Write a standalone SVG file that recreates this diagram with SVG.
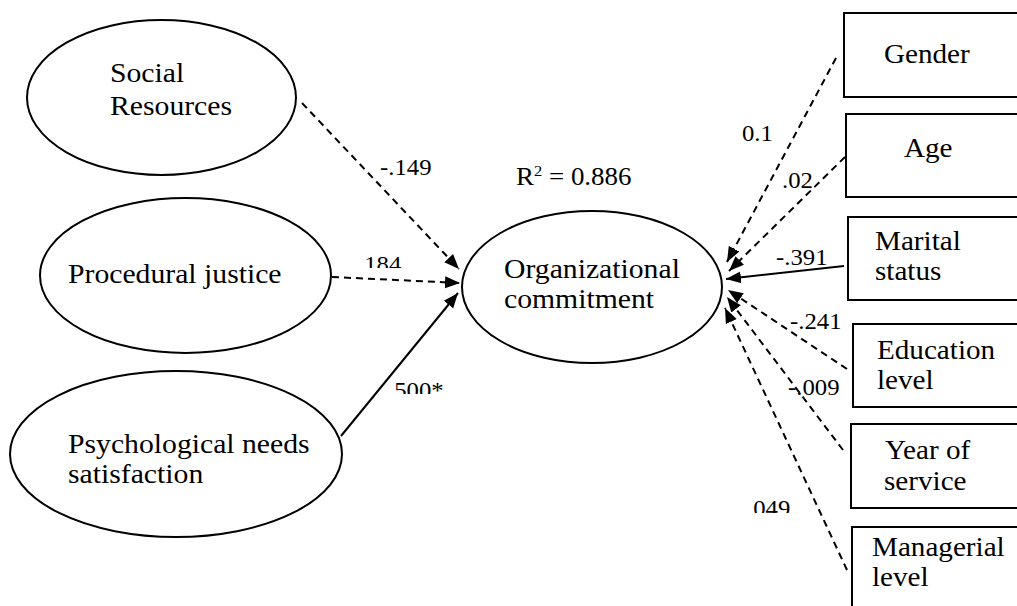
<svg xmlns="http://www.w3.org/2000/svg" width="1017" height="606" viewBox="0 0 1017 606" font-family="Liberation Serif, DejaVu Serif, serif">
<style>
.node{fill:#fff;stroke:#000;stroke-width:2}
.t{font-family:'Liberation Serif','DejaVu Serif',serif;font-size:26.5px;fill:#000}
.t2{font-family:'Liberation Serif','DejaVu Serif',serif;font-size:27px;fill:#000}
.lb{font-family:'Liberation Serif','DejaVu Serif',serif;font-size:22.5px;fill:#000}
.c{stroke:#000;stroke-width:2;fill:none}
.d{stroke-dasharray:7 5}
</style>
<defs>
<marker id="ah" markerUnits="userSpaceOnUse" markerWidth="16" markerHeight="14" viewBox="0 0 16 14" refX="15" refY="7" orient="auto">
<path d="M0,1 L15,7 L0,13 Z" fill="#000" stroke="none"/>
</marker>
<clipPath id="c184"><rect x="340" y="240" width="80" height="28"/></clipPath>
<clipPath id="c500"><rect x="370" y="365" width="100" height="29"/></clipPath>
<clipPath id="c049"><rect x="730" y="485" width="80" height="28"/></clipPath>
</defs>
<rect width="1017" height="606" fill="#fff"/>
<g id="connectors">
<line class="c d" x1="302" y1="103" x2="459" y2="269" marker-end="url(#ah)"/>
<line class="c d" x1="332" y1="277" x2="460" y2="283" marker-end="url(#ah)"/>
<line class="c" x1="341" y1="436" x2="458" y2="293" marker-end="url(#ah)"/>
<line class="c d" x1="836" y1="58" x2="727" y2="262" marker-end="url(#ah)"/>
<line class="c d" x1="845" y1="157" x2="729" y2="271" marker-end="url(#ah)"/>
<line class="c" x1="844" y1="266" x2="726" y2="279" marker-end="url(#ah)"/>
<line class="c d" x1="847" y1="369" x2="728" y2="290" marker-end="url(#ah)"/>
<line class="c d" x1="843" y1="450" x2="727" y2="297" marker-end="url(#ah)"/>
<line class="c d" x1="847" y1="570" x2="725" y2="308" marker-end="url(#ah)"/>
<text class="lb" transform="translate(380,175) scale(1.1,1)">-.149</text>
<g clip-path="url(#c184)"><text class="lb" transform="translate(358,272) scale(1.1,1)">.184</text></g>
<g clip-path="url(#c500)"><text class="lb" transform="translate(388,398) scale(1.1,1)">.500*</text></g>
<text class="lb" transform="translate(742,141) scale(1.1,1)">0.1</text>
<text class="lb" transform="translate(782,188) scale(1.1,1)">.02</text>
<text class="lb" transform="translate(776,265) scale(1.1,1)">-.391</text>
<text class="lb" transform="translate(790,329) scale(1.1,1)">-.241</text>
<text class="lb" transform="translate(788,395) scale(1.1,1)">-.009</text>
<g clip-path="url(#c049)"><text class="lb" transform="translate(747,516) scale(1.1,1)">.049</text></g>
</g>
<g id="social-resources">
<ellipse class="node" cx="161.5" cy="97.5" rx="134.5" ry="77.5"/>
<text class="t2" transform="translate(110,82) scale(1.1,1)">Social</text>
<text class="t2" transform="translate(110,115) scale(1.1,1)">Resources</text>
</g>
<g id="procedural-justice">
<ellipse class="node" cx="185.5" cy="275.5" rx="145.5" ry="77.5"/>
<text class="t2" transform="translate(68,283) scale(1.1,1)">Procedural justice</text>
</g>
<g id="psychological-needs">
<ellipse class="node" cx="176" cy="454" rx="166" ry="83"/>
<text class="t2" transform="translate(68,453) scale(1.1,1)">Psychological needs</text>
<text class="t2" transform="translate(68,483) scale(1.1,1)">satisfaction</text>
</g>
<g id="organizational-commitment">
<ellipse class="node" cx="592" cy="287" rx="130" ry="76"/>
<text class="t2" transform="translate(504,278) scale(1.1,1)">Organizational</text>
<text class="t2" transform="translate(504,308) scale(1.1,1)">commitment</text>
<text class="lb" style="font-size:24.5px" transform="translate(516,185) scale(1.1,1)">R<tspan dy="-9" style="font-size:15px">2</tspan><tspan dy="9"> = 0.886</tspan></text>
</g>
<g id="gender">
<rect class="node" x="844" y="13" width="190" height="84"/>
<text class="t" transform="translate(884,63) scale(1.1,1)">Gender</text>
</g>
<g id="age">
<rect class="node" x="846" y="114" width="190" height="83"/>
<text class="t" transform="translate(904,157) scale(1.1,1)">Age</text>
</g>
<g id="marital-status">
<rect class="node" x="848" y="217" width="190" height="83"/>
<text class="t" transform="translate(875,250) scale(1.1,1)">Marital</text>
<text class="t" transform="translate(875,280) scale(1.1,1)">status</text>
</g>
<g id="education-level">
<rect class="node" x="853" y="324" width="190" height="83"/>
<text class="t" transform="translate(877,359) scale(1.1,1)">Education</text>
<text class="t" transform="translate(877,389) scale(1.1,1)">level</text>
</g>
<g id="year-of-service">
<rect class="node" x="851" y="424" width="190" height="84"/>
<text class="t" transform="translate(885,459) scale(1.1,1)">Year of</text>
<text class="t" transform="translate(884,490) scale(1.1,1)">service</text>
</g>
<g id="managerial-level">
<rect class="node" x="852" y="527" width="190" height="100"/>
<text class="t" transform="translate(872,556) scale(1.1,1)">Managerial</text>
<text class="t" transform="translate(872,586) scale(1.1,1)">level</text>
</g>
</svg>
